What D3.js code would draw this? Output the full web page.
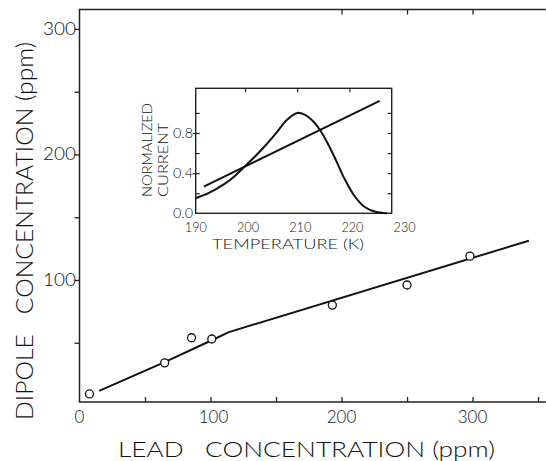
<!DOCTYPE html>
<html>
<head>
<meta charset="utf-8">
<script src="https://cdn.jsdelivr.net/npm/d3@7"></script>
<style>
  body { margin: 0; background: #fff; }
  text { font-family: Lato, "DejaVu Sans", sans-serif; font-weight: 300; fill: #111; }
</style>
</head>
<body>
<div id="chart"></div>
<script>
var width = 546,
height = 461;

// main plot: lead vs dipole concentration (ppm)
var leadPpm = [7.6, 65, 85.5, 101, 193, 250, 298];
var dipolePpm = [9.2, 34, 54, 53, 80, 96, 119];
var fitLead = [15, 65, 101, 114, 343];
var fitDipole = [11.6, 34.5, 52, 58.5, 131.3];
var xTicks = [0, 100, 200, 300];
var yTicks = [100, 200, 300];

// inset: normalized current vs temperature
var peakTemp = [190.5, 193, 196, 198, 200, 202, 204, 206, 208, 210, 211.5, 213, 214.5, 216, 217.5, 219, 221, 223, 225, 227.2];
var peakCurrent = [0.15, 0.2, 0.29, 0.37, 0.47, 0.57, 0.68, 0.8, 0.93, 1.0, 0.98, 0.92, 0.82, 0.68, 0.52, 0.35, 0.17, 0.06, 0.015, 0.0];
var lineTemp = [192.1, 225.8];
var lineCurrent = [0.265, 1.12];
var insetXTicks = [190, 200, 210, 220, 230];
var insetYTicks = [0.0, 0.4, 0.8];

const svg = d3.select('#chart').
append('svg').
attr('width', width).
attr('height', height);

const xScale = d3.scaleLinear().domain([0, 356]).range([79.5, 545.9]);
const yScale = d3.scaleLinear().domain([2.8, 315.5]).range([402, 9.5]);

// frame lines
svg.append('path').
attr('d', 'M' + xScale(356) + ',' + yScale(315.5) + 'H' + xScale(0) + 'V' + yScale(2.8) + 'H' + xScale(356)).
attr('fill', 'none').
attr('stroke', '#222').
attr('stroke-width', 1.5);

// bottom ticks (inward)
svg.append('g').
attr('transform', 'translate(0,' + yScale(2.8) + ')').
call(d3.axisTop(xScale).tickValues([50, 100, 150, 200, 250, 300, 350]).tickSize(5).tickFormat('')).
call(g => g.select('.domain').remove()).
selectAll('line').attr('stroke', '#222').attr('stroke-width', 1.3);

// top ticks (inward)
svg.append('g').
attr('transform', 'translate(0,' + yScale(315.5) + ')').
call(d3.axisBottom(xScale).tickValues([200, 250, 300]).tickSize(5).tickFormat('')).
call(g => g.select('.domain').remove()).
selectAll('line').attr('stroke', '#222').attr('stroke-width', 1.3);

// left ticks (outward)
svg.append('g').
attr('transform', 'translate(' + xScale(0) + ',0)').
call(d3.axisLeft(yScale).tickValues([50, 100, 150, 200, 250, 300]).tickSize(5).tickFormat('')).
call(g => g.select('.domain').remove()).
selectAll('line').attr('stroke', '#222').attr('stroke-width', 1.3);

svg.selectAll('.ylab').
data(yTicks).
enter().
append('text').
attr('class', 'ylab').
attr('x', 76).
attr('y', d => yScale(d) + 6).
attr('text-anchor', 'end').
attr('font-size', '17px').
attr('textLength', 33).
attr('lengthAdjust', 'spacingAndGlyphs').
text(d => d);

svg.selectAll('.xlab').
data(xTicks).
enter().
append('text').
attr('class', 'xlab').
attr('x', d => xScale(d) + (d == 100 ? 3 : 0)).
attr('y', 423).
attr('text-anchor', 'middle').
attr('font-size', '17px').
text(d => d);

svg.append('text').
attr('x', 306.5).
attr('y', 457).
attr('text-anchor', 'middle').
attr('font-size', '22px').
attr('textLength', 377).
attr('lengthAdjust', 'spacingAndGlyphs').
style('white-space', 'pre').
text('LEAD   CONCENTRATION (ppm)');

svg.append('text').
attr('transform', 'translate(33,231) rotate(-90)').
attr('text-anchor', 'middle').
attr('font-size', '23px').
attr('textLength', 378).
attr('lengthAdjust', 'spacingAndGlyphs').
style('white-space', 'pre').
text('DIPOLE   CONCENTRATION (ppm)');

// fit line and points
const mainLine = d3.line().
x(d => xScale(d[0])).
y(d => yScale(d[1]));

svg.append('path').
attr('d', mainLine(d3.zip(fitLead, fitDipole))).
attr('fill', 'none').
attr('stroke', '#111').
attr('stroke-width', 2);

svg.selectAll('.pt').
data(d3.zip(leadPpm, dipolePpm)).
enter().
append('circle').
attr('class', 'pt').
attr('cx', d => xScale(d[0])).
attr('cy', d => yScale(d[1])).
attr('r', 4).
attr('fill', 'white').
attr('stroke', '#111').
attr('stroke-width', 1.3);

// ---- inset ----
const ix = d3.scaleLinear().domain([190.55, 228.1]).range([195.7, 391.7]);
const iy = d3.scaleLinear().domain([0, 1.245]).range([213.3, 88.3]);

svg.append('rect').
attr('x', ix(190.55)).
attr('y', iy(1.245)).
attr('width', ix(228.1) - ix(190.55)).
attr('height', iy(0) - iy(1.245)).
attr('fill', 'white').
attr('stroke', '#222').
attr('stroke-width', 1.4);

const iyT = [0.2, 0.4, 0.6, 0.8, 1.0];
svg.append('g').
attr('transform', 'translate(' + ix(190.55) + ',0)').
call(d3.axisRight(iy).tickValues(iyT).tickSize(4).tickFormat('')).
call(g => g.select('.domain').remove()).
selectAll('line').attr('stroke', '#222').attr('stroke-width', 1.2);

svg.append('g').
attr('transform', 'translate(' + ix(190.55) + ',0)').
call(d3.axisLeft(iy).tickValues([0.4, 0.8]).tickSize(3).tickFormat('')).
call(g => g.select('.domain').remove()).
selectAll('line').attr('stroke', '#222').attr('stroke-width', 1.2);

svg.append('g').
attr('transform', 'translate(' + ix(228.1) + ',0)').
call(d3.axisLeft(iy).tickValues(iyT).tickSize(4).tickFormat('')).
call(g => g.select('.domain').remove()).
selectAll('line').attr('stroke', '#222').attr('stroke-width', 1.2);

svg.append('g').
attr('transform', 'translate(0,' + iy(1.245) + ')').
call(d3.axisBottom(ix).tickValues([200, 210, 220]).tickSize(4).tickFormat('')).
call(g => g.select('.domain').remove()).
selectAll('line').attr('stroke', '#222').attr('stroke-width', 1.2);

svg.selectAll('.iylab').
data(insetYTicks).
enter().
append('text').
attr('class', 'iylab').
attr('x', 193).
attr('y', d => iy(d) + 5).
attr('text-anchor', 'end').
attr('font-size', '14px').
attr('textLength', 20).
attr('lengthAdjust', 'spacingAndGlyphs').
text(d => d.toFixed(1));

svg.selectAll('.ixlab').
data(insetXTicks).
enter().
append('text').
attr('class', 'ixlab').
attr('x', d => ix(d) + 3).
attr('y', 232).
attr('text-anchor', 'middle').
attr('font-size', '14px').
attr('textLength', 22).
attr('lengthAdjust', 'spacingAndGlyphs').
text(d => d);

svg.append('text').
attr('x', 288).
attr('y', 249).
attr('text-anchor', 'middle').
attr('font-size', '14px').
attr('textLength', 152).
attr('lengthAdjust', 'spacingAndGlyphs').
text('TEMPERATURE (K)');

svg.append('text').
attr('transform', 'translate(152,197) rotate(-90)').
attr('font-size', '14px').
attr('textLength', 94).
attr('lengthAdjust', 'spacingAndGlyphs').
text('NORMALIZED');

svg.append('text').
attr('transform', 'translate(168,197) rotate(-90)').
attr('font-size', '14px').
attr('textLength', 74).
attr('lengthAdjust', 'spacingAndGlyphs').
text('CURRENT');

const insetLine = d3.line().
x(d => ix(d[0])).
y(d => iy(d[1])).
curve(d3.curveCatmullRom);

svg.append('path').
attr('d', insetLine(d3.zip(peakTemp, peakCurrent))).
attr('fill', 'none').
attr('stroke', '#111').
attr('stroke-width', 2);

svg.append('path').
attr('d', insetLine(d3.zip(lineTemp, lineCurrent))).
attr('fill', 'none').
attr('stroke', '#111').
attr('stroke-width', 2);
</script>
</body>
</html>
